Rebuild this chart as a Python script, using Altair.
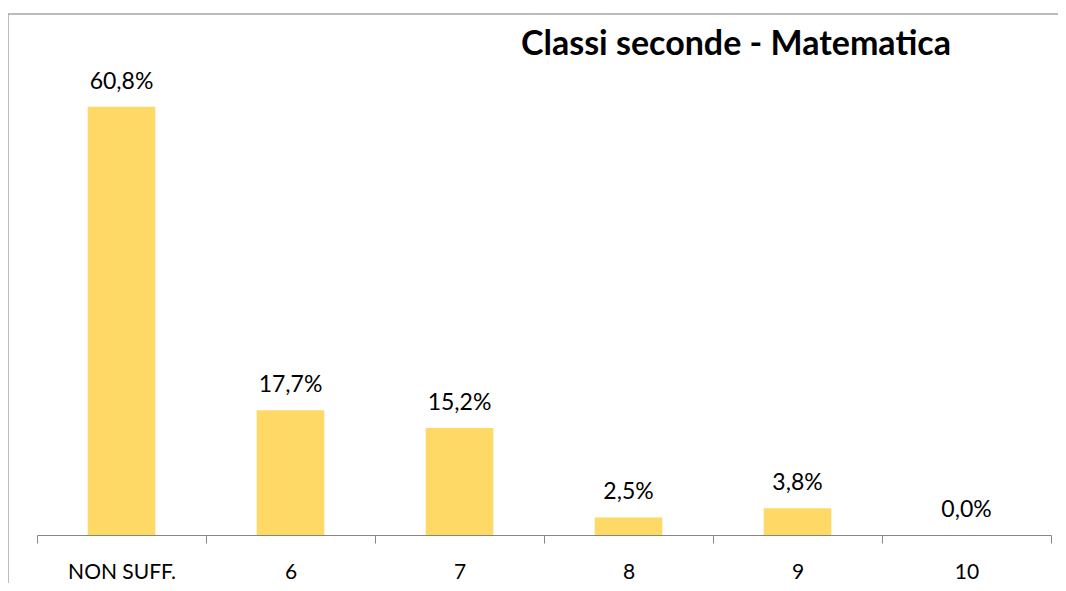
import altair as alt
import pandas as pd

categories = ["NON SUFF.", "6", "7", "8", "9", "10"]
values = [60.8, 17.7, 15.2, 2.5, 3.8, 0.0]
title_text = "Classi seconde - Matematica"

df = pd.DataFrame({
    "cat": categories,
    "val": values,
    "label": [f"{v:.1f}%".replace(".", ",") for v in values],
})

W, H = 1014, 493
FONT = "Lato"

x_enc = alt.X(
    "cat:N",
    sort=categories,
    scale=alt.Scale(paddingInner=0, paddingOuter=0),
    axis=alt.Axis(
        title=None,
        labelAngle=0,
        labelFont=FONT,
        labelFontSize=21,
        labelColor="#000000",
        labelBaseline="alphabetic",
        labelPadding=35,
        tickSize=8,
        tickBand="extent",
        tickColor="#868686",
        domainColor="#868686",
        domainWidth=1,
        tickWidth=1,
        grid=False,
    ),
)
y_enc = alt.Y("val:Q", scale=alt.Scale(domain=[0, 70]), axis=None)

base = alt.Chart(df)
single = base.transform_filter(alt.datum.cat == categories[0])

frame = single.mark_rect(fill=None, stroke="#A6A6A6", strokeWidth=1.5).encode(
    x=alt.value(-29), x2=alt.value(1200), y=alt.value(-28), y2=alt.value(700)
)

title = single.mark_text(
    font=FONT, fontSize=34, fontWeight="bold", color="#000000",
    align="left", baseline="alphabetic",
).encode(x=alt.value(484), y=alt.value(13), text=alt.value(title_text))

bars = base.mark_bar(color="#FFD966", width={"band": 0.4}).encode(x=x_enc, y=y_enc)

labels = base.mark_text(
    font=FONT, fontSize=23, color="#000000", baseline="alphabetic", dy=-18
).encode(x=alt.X("cat:N", sort=categories), y=y_enc, text="label:N")

chart = alt.layer(frame, bars, labels, title).properties(
    width=W,
    height=H,
    autosize=alt.AutoSizeParams(type="none"),
    padding={"left": 29, "top": 34, "right": 7, "bottom": 48},
).configure_view(stroke=None)

chart.save("out.html", embed_options={"renderer": "svg", "actions": False})
